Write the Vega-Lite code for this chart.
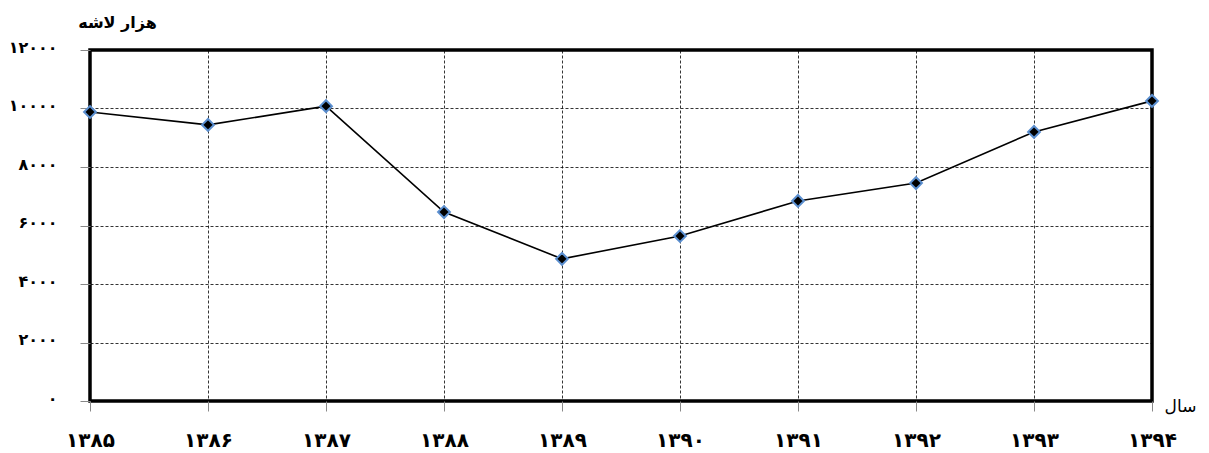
{
  "$schema": "https://vega.github.io/schema/vega-lite/v6.json",
  "width": 1062,
  "height": 351,
  "autosize": {"type": "none"},
  "padding": {"left": 90, "top": 50, "right": 57, "bottom": 52},
  "background": "white",
  "config": {
    "view": {"stroke": "black", "strokeWidth": 3.5},
    "font": "DejaVu Sans"
  },
  "data": {
    "values": [
      {"year": "۱۳۸۵", "value": 9880},
      {"year": "۱۳۸۶", "value": 9440},
      {"year": "۱۳۸۷", "value": 10080},
      {"year": "۱۳۸۸", "value": 6460},
      {"year": "۱۳۸۹", "value": 4860},
      {"year": "۱۳۹۰", "value": 5640},
      {"year": "۱۳۹۱", "value": 6840},
      {"year": "۱۳۹۲", "value": 7450},
      {"year": "۱۳۹۳", "value": 9200},
      {"year": "۱۳۹۴", "value": 10260}
    ]
  },
  "encoding": {
    "x": {
      "field": "year",
      "type": "ordinal",
      "sort": null,
      "scale": {"type": "point", "padding": 0},
      "axis": {
        "title": "سال",
        "titleFont": "DejaVu Sans",
        "titleFontSize": 17,
        "titleFontWeight": "normal",
        "titleColor": "black",
        "titleX": 1090,
        "titleY": 5,
        "titleAlign": "center",
        "titleBaseline": "middle",
        "labelAngle": 0,
        "labelFontSize": 20,
        "labelFontWeight": "bold",
        "labelColor": "black",
        "labelPadding": 19,
        "tickSize": 10,
        "tickColor": "#888888",
        "domain": false,
        "grid": true,
        "gridColor": "black",
        "gridDash": [3, 2],
        "gridWidth": 0.8
      }
    },
    "y": {
      "field": "value",
      "type": "quantitative",
      "scale": {"domain": [0, 12000], "nice": false},
      "axis": {
        "values": [0, 2000, 4000, 6000, 8000, 10000, 12000],
        "labelExpr": "datum.value == 0 ? '۰' : datum.value == 2000 ? '۲۰۰۰' : datum.value == 4000 ? '۴۰۰۰' : datum.value == 6000 ? '۶۰۰۰' : datum.value == 8000 ? '۸۰۰۰' : datum.value == 10000 ? '۱۰۰۰۰' : '۱۲۰۰۰'",
        "title": "هزار لاشه",
        "titleAngle": 0,
        "titleFontSize": 16,
        "titleFontWeight": "bold",
        "titleColor": "black",
        "titleX": 27,
        "titleY": -28,
        "titleAlign": "center",
        "titleBaseline": "middle",
        "labelFontSize": 16,
        "labelFontWeight": "bold",
        "labelColor": "black",
        "labelPadding": 23,
        "labelOffset": -3,
        "tickSize": 10,
        "tickColor": "#888888",
        "domain": false,
        "grid": true,
        "gridColor": "black",
        "gridDash": [3, 2],
        "gridWidth": 0.8
      }
    }
  },
  "layer": [
    {"mark": {"type": "line", "color": "black", "strokeWidth": 1.6}},
    {"mark": {"type": "point", "shape": "diamond", "filled": true, "fill": "black", "stroke": "#5b8fd0", "strokeWidth": 2, "size": 140, "opacity": 1}}
  ]
}
